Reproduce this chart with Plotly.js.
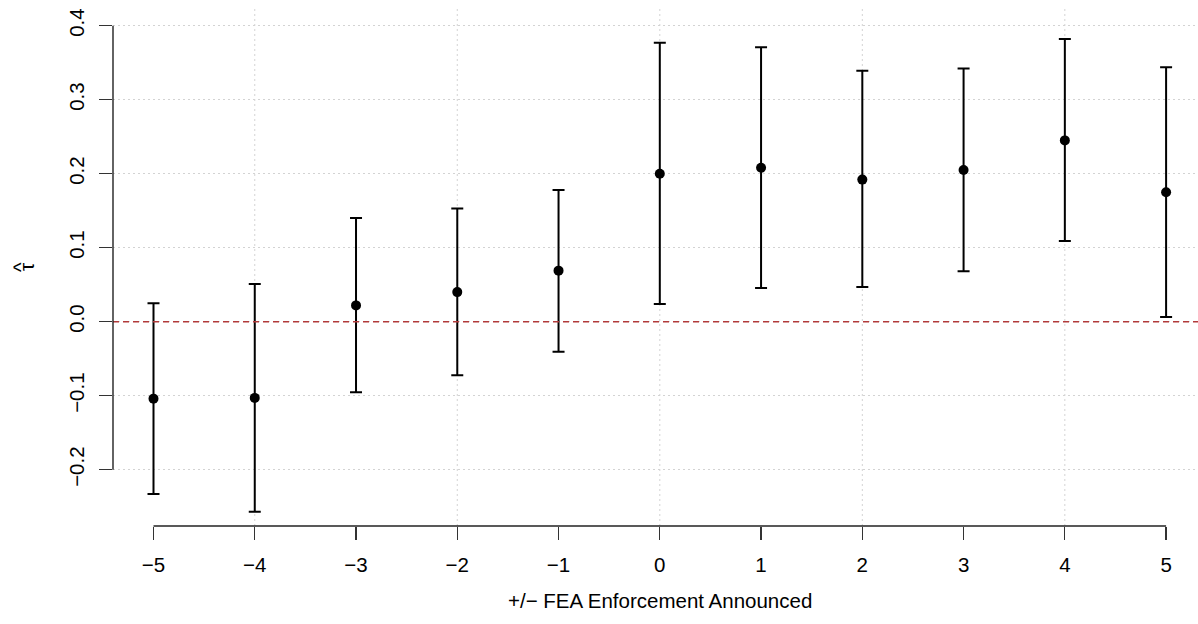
<!DOCTYPE html>
<html>
<head>
<meta charset="utf-8">
<script src="https://cdn.plot.ly/plotly-3.0.1.min.js"></script>
<style>html,body{margin:0;padding:0;background:#fff;overflow:hidden}#chart{width:1198px;height:624px}</style>
</head>
<body>
<div id="chart"></div>
<script>
// Event time relative to FEA enforcement announcement
var eventTime = [-5, -4, -3, -2, -1, 0, 1, 2, 3, 4, 5];
// Point estimates (tau hat)
var estimate = [-0.104, -0.103, 0.022, 0.040, 0.069, 0.200, 0.208, 0.192, 0.205, 0.245, 0.175];
// Confidence interval bounds
var lowerCI = [-0.233, -0.257, -0.0955, -0.0725, -0.0405, 0.024, 0.0455, 0.047, 0.068, 0.109, 0.0063];
var upperCI = [0.025, 0.051, 0.140, 0.153, 0.178, 0.377, 0.371, 0.339, 0.342, 0.382, 0.344];
// Tick labels
var xTickVals = [-5, -4, -3, -2, -1, 0, 1, 2, 3, 4, 5];
var xTickText = ["\u22125", "\u22124", "\u22123", "\u22122", "\u22121", "0", "1", "2", "3", "4", "5"];
var yTickVals = [-0.2, -0.1, 0.0, 0.1, 0.2, 0.3, 0.4];
var yTickText = ["\u22120.2", "\u22120.1", "0.0", "0.1", "0.2", "0.3", "0.4"];

var FONT = "Liberation Sans, Arial, Helvetica, sans-serif";
var FS = 20.5;
var xRange = [-5.4, 5.315];
var yRange = [-0.2761, 0.4239];

function px(v) { return (v - xRange[0]) / (xRange[1] - xRange[0]); }
function py(v) { return (v - yRange[0]) / (yRange[1] - yRange[0]); }

var errPlus = estimate.map(function (e, i) { return upperCI[i] - e; });
var errMinus = estimate.map(function (e, i) { return e - lowerCI[i]; });

var traces = [
  {
    x: eventTime, y: estimate, type: 'scatter', mode: 'markers',
    marker: {color: '#000', size: 10, symbol: 'circle'},
    error_y: {type: 'data', symmetric: false, array: errPlus, arrayminus: errMinus,
              color: '#000', thickness: 2, width: 6},
    showlegend: false, hoverinfo: 'skip', cliponaxis: false
  }
];

var xMin = xTickVals[0], xMax = xTickVals[xTickVals.length - 1];
var yMin = yTickVals[0], yMax = yTickVals[yTickVals.length - 1];

var gridStyle = {color: '#d3d3d3', width: 1, dash: '2px,3px'};
var shapes = [];
// vertical grid at R's pretty() positions (even ticks)
xTickVals.filter(function (v) { return v % 2 === 0; }).forEach(function (v) {
  shapes.push({type: 'line', xref: 'x', yref: 'paper', x0: v, x1: v, y0: 0, y1: 1,
               line: gridStyle, layer: 'below'});
});
// reference line at zero
shapes.push({type: 'line', xref: 'paper', yref: 'y', x0: 0, x1: 1, y0: 0, y1: 0,
             line: {color: '#b23a3a', width: 1.5, dash: '6px,4px'}, layer: 'above'});
// R-style axis lines spanning the tick range only
shapes.push({type: 'line', xref: 'paper', yref: 'paper', x0: px(xMin), x1: px(xMax), y0: 0, y1: 0,
             line: {color: '#222', width: 1.4}, layer: 'above'});
shapes.push({type: 'line', xref: 'paper', yref: 'paper', x0: 0, x1: 0, y0: py(yMin), y1: py(yMax),
             line: {color: '#222', width: 1.4}, layer: 'above'});

var layout = {
  width: 1198, height: 624,
  margin: {l: 113, r: 0, t: 8, b: 98, pad: 0},
  paper_bgcolor: '#fff', plot_bgcolor: '#fff',
  font: {family: FONT, size: FS, color: '#000'},
  showlegend: false,
  xaxis: {
    range: xRange, tickvals: xTickVals, ticktext: xTickText,
    showgrid: false, zeroline: false, showline: false,
    ticks: 'outside', ticklen: 13, tickwidth: 1.3, tickcolor: '#333',
    ticklabelstandoff: 7,
    tickfont: {family: FONT, size: FS, color: '#000'}
  },
  yaxis: {
    range: yRange, tickvals: yTickVals, ticktext: yTickText,
    showgrid: true, gridcolor: '#d3d3d3', gridwidth: 1, griddash: '2px,3px',
    zeroline: false, showline: false,
    ticks: 'outside', ticklen: 13, tickwidth: 1.3, tickcolor: '#333',
    tickangle: -90, ticklabelstandoff: 7,
    tickfont: {family: FONT, size: FS, color: '#000'}
  },
  shapes: shapes,
  annotations: [
    {text: '+/\u2212 FEA Enforcement Announced', xref: 'x', yref: 'paper', x: 0, y: 0,
     xanchor: 'center', yanchor: 'middle', yshift: -74, showarrow: false,
     font: {family: FONT, size: FS, color: '#000'}},
    {text: '\u03c4', xref: 'paper', yref: 'paper', x: 0, y: 0.5,
     xanchor: 'center', yanchor: 'middle', xshift: -87, showarrow: false, textangle: -90,
     font: {family: FONT, size: FS, color: '#000'}},
    {text: '^', xref: 'paper', yref: 'paper', x: 0, y: 0.5,
     xanchor: 'center', yanchor: 'middle', xshift: -93, showarrow: false, textangle: -90,
     font: {family: FONT, size: FS, color: '#000'}}
  ]
};

Plotly.newPlot('chart', traces, layout, {displayModeBar: false, staticPlot: true});
</script>
</body>
</html>
